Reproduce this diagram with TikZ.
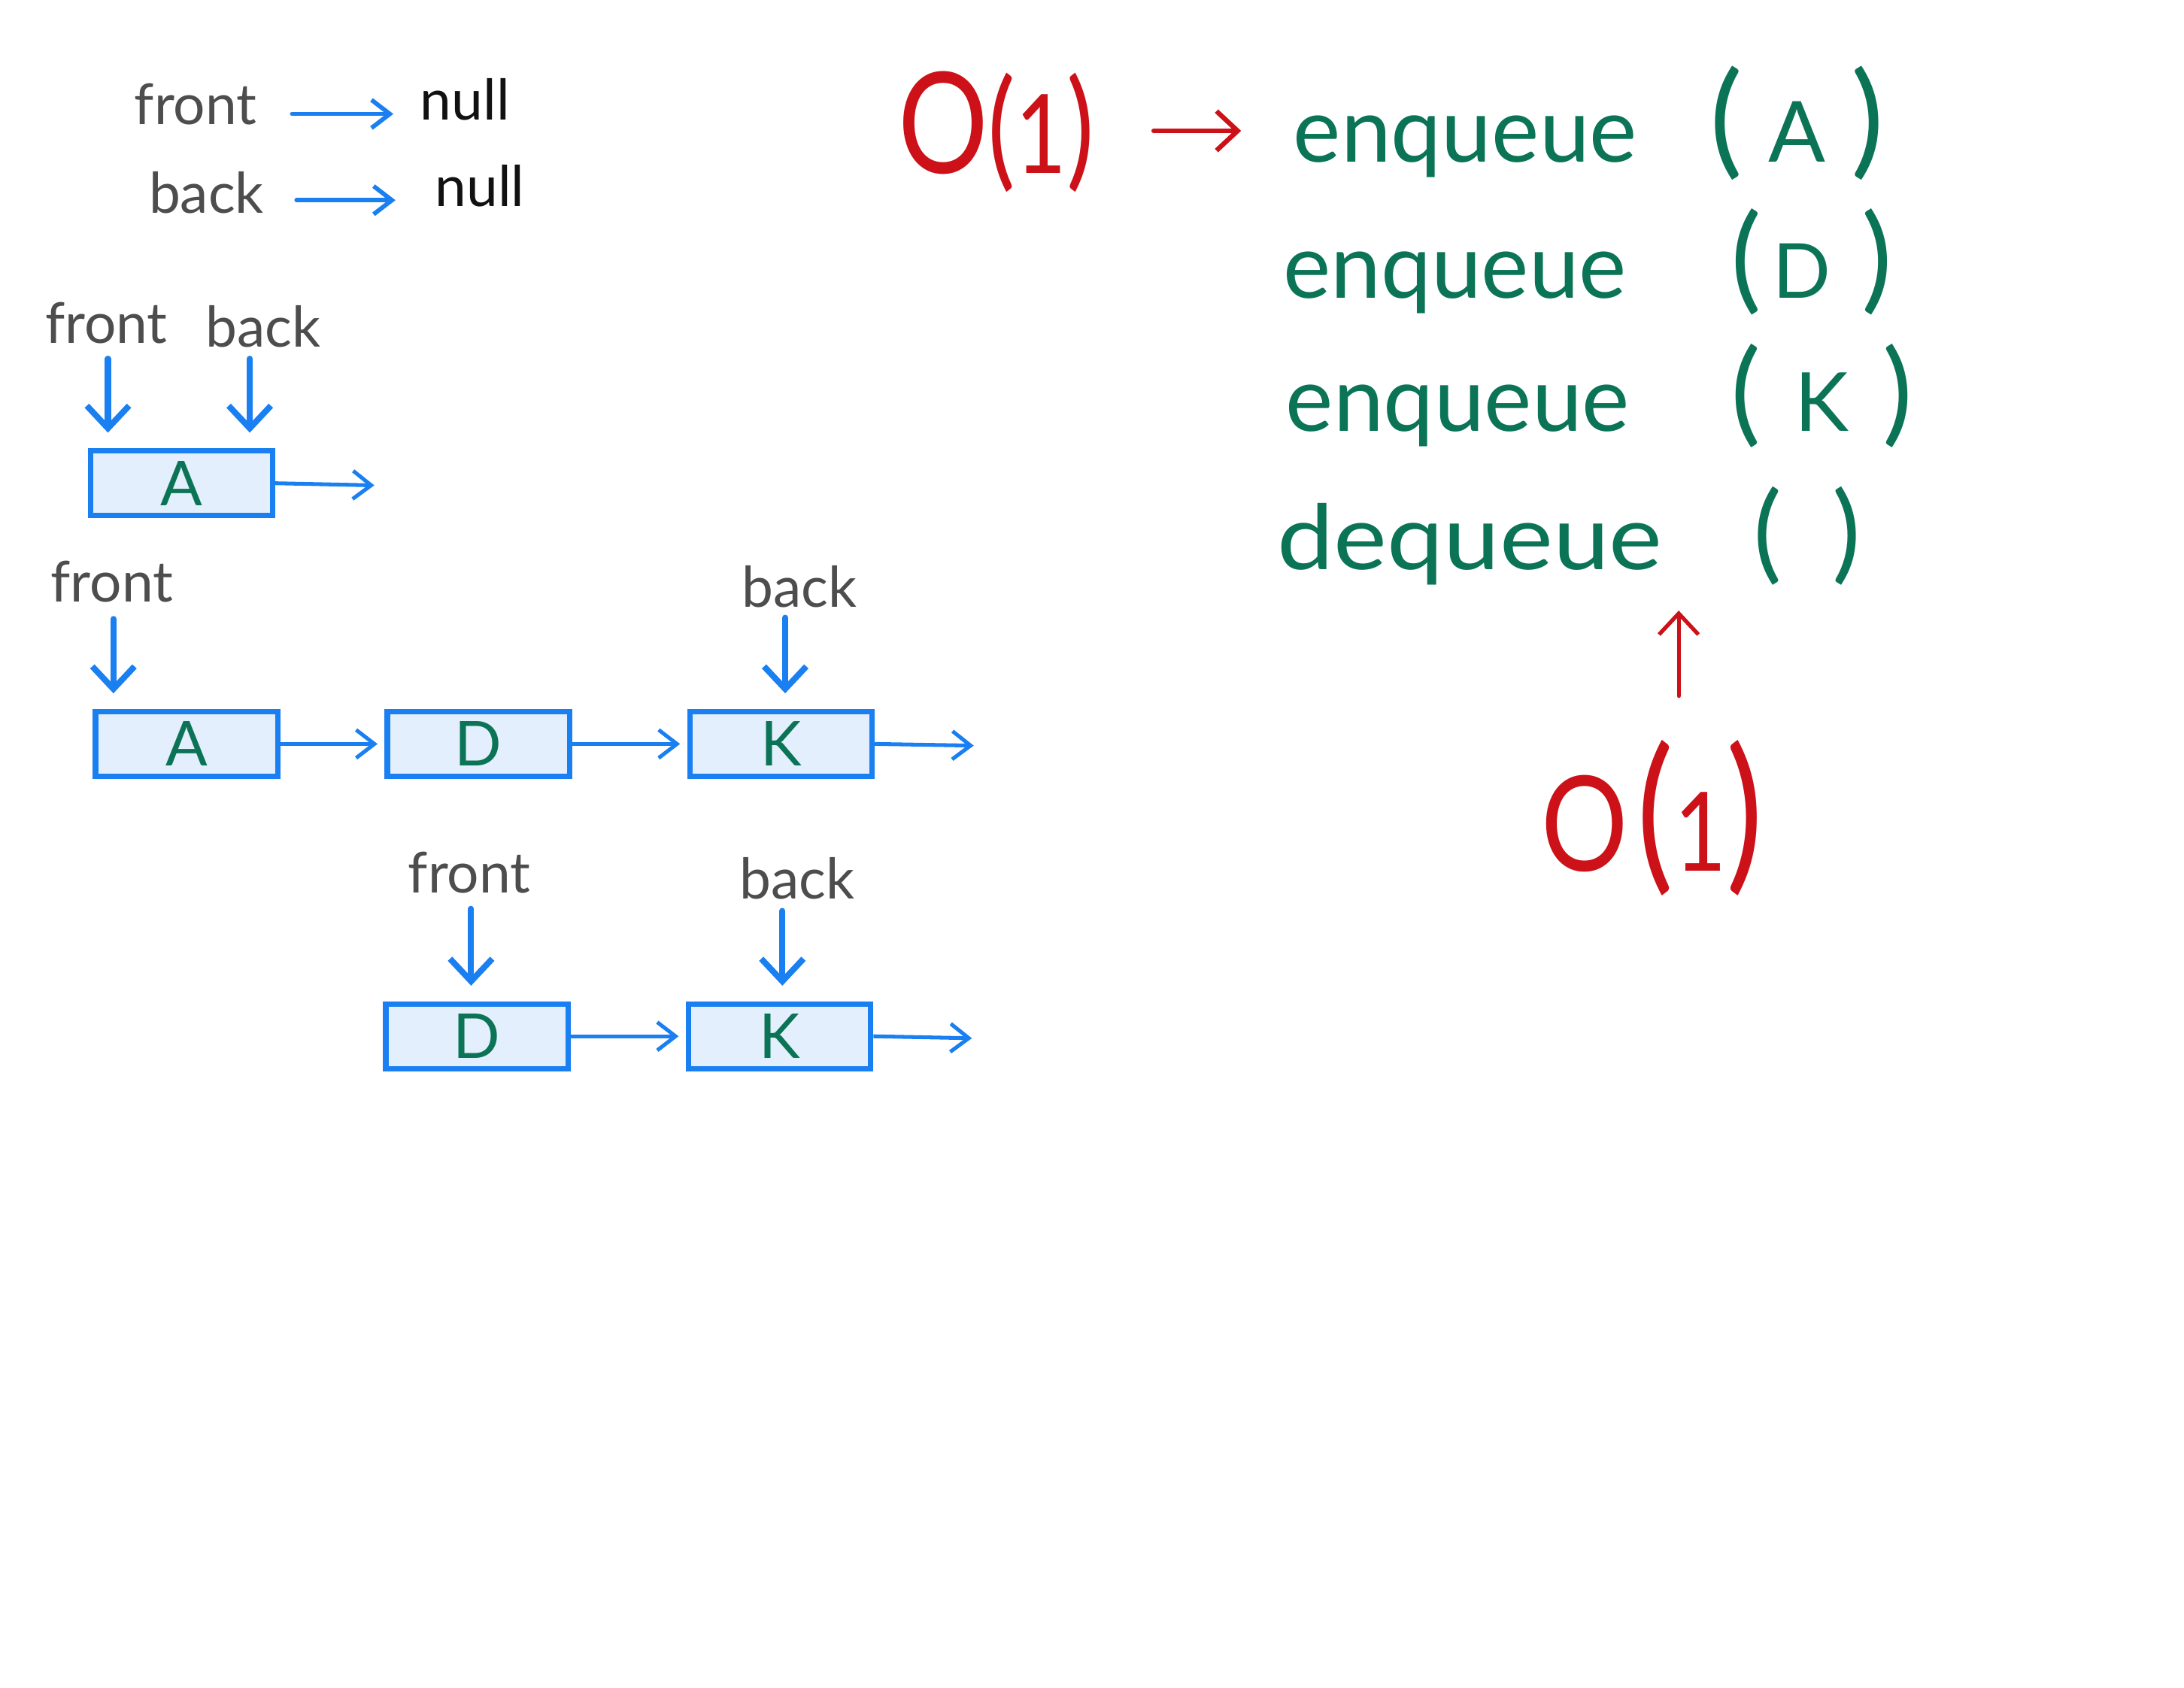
\documentclass[tikz,border=0pt]{standalone}
\usepackage{fontspec}
\usepackage{graphicx}
\setmainfont{Lato}
\usetikzlibrary{arrows.meta}
\definecolor{qblue}{HTML}{1A7FF0}
\definecolor{qfill}{HTML}{E3EFFC}
\definecolor{qgreen}{HTML}{0B7456}
\definecolor{qred}{HTML}{CC1118}
\definecolor{lgray}{HTML}{4D4D4D}
\definecolor{nullc}{HTML}{111111}
\newcommand{\fs}[1]{\fontsize{#1}{#1}\selectfont}
\begin{document}
\begin{tikzpicture}[x=1pt,y=-1pt,
  lbl/.style={font=\fs{40}, text=lgray, inner sep=0pt, anchor=base},
  nul/.style={lbl, text=nullc},
  qbox/.style={draw=qblue, fill=qfill, line width=3.9pt, minimum width=129.5pt,
     minimum height=46pt, inner sep=0pt, font=\fs{44}, text=qgreen},
  down/.style={draw=qblue, line width=4.3pt, line cap=round,
     -{Straight Barb[length=16pt,width=30pt]}, shorten >=11pt},
  hptr/.style={draw=qblue, line width=3.1pt, line cap=round,
     -{Straight Barb[length=13pt,width=20pt]}},
  link/.style={draw=qblue, line width=2.7pt,
     -{Straight Barb[length=13pt,width=20pt]}},
  gtxt/.style={text=qgreen, inner sep=0pt, anchor=base west},
  rtxt/.style={text=qred, inner sep=0pt, anchor=base west},
  rarr/.style={draw=qred, line width=3.4pt, line cap=round,
     -{Straight Barb[length=15pt,width=28pt]}}
]
\useasboundingbox (0,0) rectangle (1552.1,1199.4);

% ---- row 1: empty queue
\node[lbl] (ft) at (139,88.4) {front};
\node[nul] (nl1) at (330.5,85) {null};
\node[lbl] (bk1) at (146.7,151.6) {back};
\node[nul] (nl2) at (341,146.5) {null};
\draw[hptr, shorten <=25pt, shorten >=19pt] ([yshift=7.4pt]ft.base east) -- ([yshift=7.4pt]ft.base east -| nl1.west);
\draw[hptr, shorten <=23pt, shorten >=28pt] ([yshift=9.3pt]bk1.base east) -- ([yshift=9.3pt]bk1.base east -| nl2.west);

% ---- row 2: one element
\node[lbl] (f2) at (75.5,244) {front};
\node[lbl] (b2) at (187,246.7) {back};
\node[qbox] (A2) at (129,343.5) {A};
\coordinate (x2) at (266,345);
\draw[down] ([xshift=1.2pt,yshift=-11pt]f2.base) -- ([xshift=1.2pt]f2.base |- A2.north);
\draw[down] ([xshift=-9.5pt,yshift=-8.3pt]b2.base) -- ([xshift=-9.5pt]b2.base |- A2.north);
\draw[link] (A2.east) -- (x2);

% ---- row 3: three elements
\node[lbl] (f3) at (79.6,428) {front};
\node[lbl] (b3) at (568,431.6) {back};
\node[qbox] (A3) at (132.7,528.8) {A};
\node[qbox] (D3) at (340,528.8) {D};
\node[qbox] (K3) at (555,528.8) {K};
\coordinate (x3) at (692,530);
\draw[down] ([xshift=1pt,yshift=-12pt]f3.base) -- ([xshift=1pt]f3.base |- A3.north);
\draw[down] ([xshift=-10pt,yshift=-7.5pt]b3.base) -- ([xshift=-10pt]b3.base |- K3.north);
\draw[link, shorten >=5pt] (A3) -- (D3);
\draw[link, shorten >=5pt] (D3) -- (K3);
\draw[link] (K3.east) -- (x3);

% ---- row 4: after dequeue
\node[lbl] (f4) at (333.5,634.6) {front};
\node[lbl] (b4) at (566.7,638.8) {back};
\node[qbox] (D4) at (339,736.6) {D};
\node[qbox] (K4) at (554,736.6) {K};
\coordinate (x4) at (690.7,738);
\draw[down] ([xshift=1.3pt,yshift=-11.4pt]f4.base) -- ([xshift=1.3pt]f4.base |- D4.north);
\draw[down] ([xshift=-10.7pt,yshift=-8.7pt]b4.base) -- ([xshift=-10.7pt]b4.base |- K4.north);
\draw[link, shorten >=5pt] (D4) -- (K4);
\draw[link] (K4.east) -- (x4);

% ---- right side: operations
\node[rtxt] (o1) at (638,123) {\scalebox{0.8}[1]{\fs{100}O\fs{92}(\fs{78}1\fs{92})}};
\node[gtxt] (e1) at (919,115) {\fs{64}enqueue};
\node[gtxt] (p1) at (1215,115) {\fs{88}(\hspace*{18pt}\fs{60}A\hspace*{18pt}\fs{88})};
\node[gtxt] (e2) at (911.6,212) {\fs{64}enqueue};
\node[gtxt] (p2) at (1230,212) {\fs{82}(\hspace*{8pt}\fs{54}D\hspace*{22pt}\fs{82})};
\node[gtxt] (e3) at (913.7,306.5) {\fs{64}enqueue};
\node[gtxt] (p3) at (1230,306.5) {\fs{80}(\hspace*{24pt}\fs{58}K\hspace*{24pt}\fs{80})};
\node[gtxt] (d4) at (907.5,405) {\scalebox{1.12}[1]{\fs{64}dequeue}};
\node[gtxt] (p4) at (1246,405) {\fs{76}(\hspace*{36pt})};
\node[rtxt] (o2) at (1095,619) {\scalebox{0.82}[1]{\fs{94}O\hspace*{8pt}\fs{120}(\fs{78}1\fs{120})}};
\coordinate (uptip) at (1193,434);

\draw[rarr, shorten <=42pt, shorten >=37pt] ([yshift=30pt]o1.base east) -- ([yshift=30pt]o1.base east -| e1.base west);
\draw[rarr, line width=2.8pt, shorten <=31pt] (o2.north -| uptip) -- (uptip);
\end{tikzpicture}
\end{document}
